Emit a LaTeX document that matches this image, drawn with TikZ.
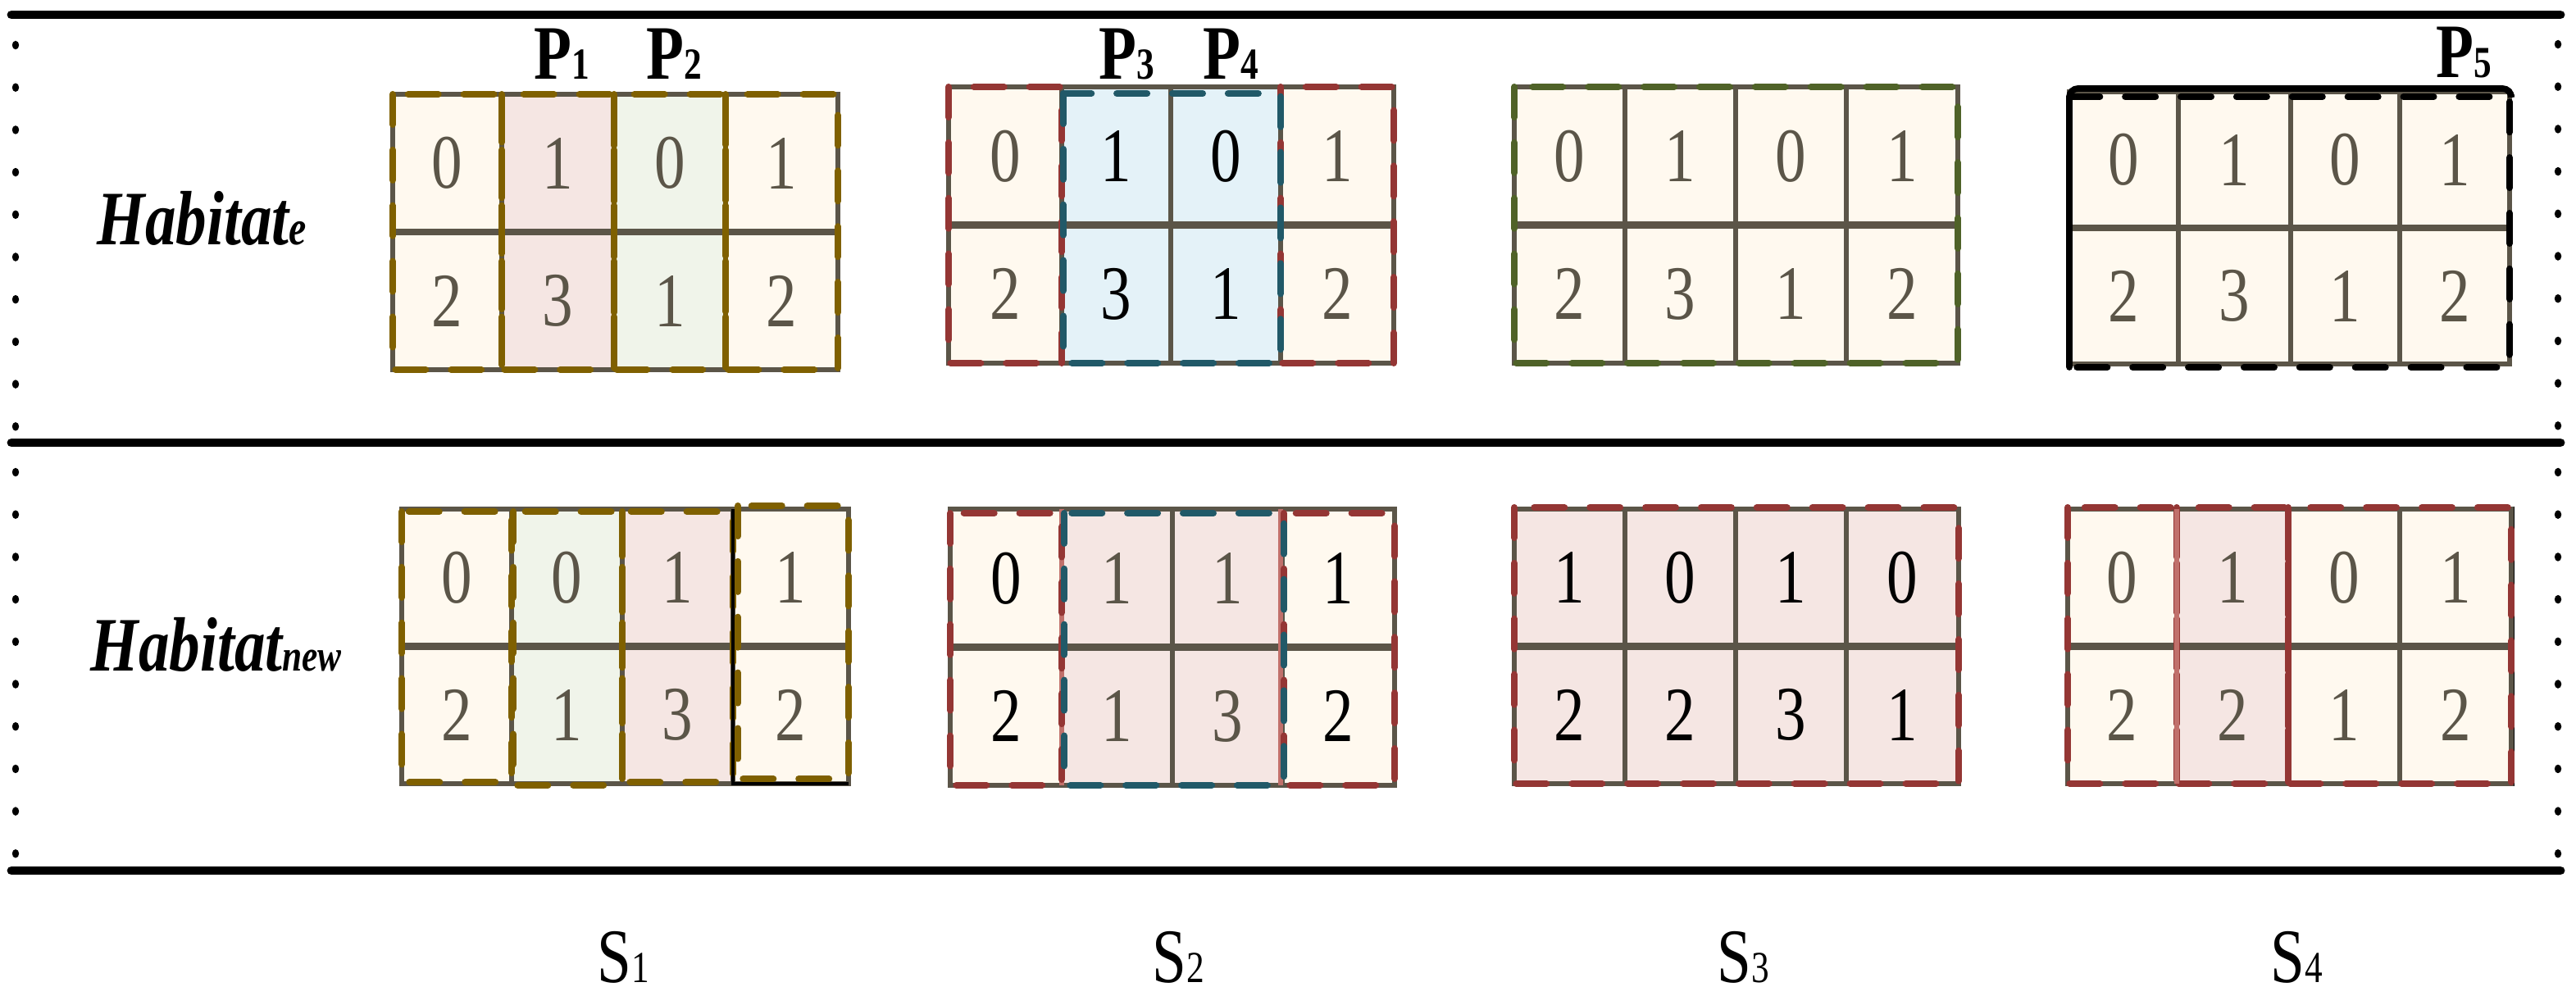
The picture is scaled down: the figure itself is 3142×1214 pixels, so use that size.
\documentclass[tikz,border=0pt]{standalone}
\usepackage{fontspec}
\setmainfont{Liberation Serif}
\definecolor{cream}{HTML}{FFF9EF}
\definecolor{pinkc}{HTML}{F5E6E3}
\definecolor{greenc}{HTML}{F0F4EA}
\definecolor{bluec}{HTML}{E4F2F8}
\definecolor{gridgray}{HTML}{5B5548}
\definecolor{dgray}{HTML}{5B5548}
\definecolor{goldd}{HTML}{7F6000}
\definecolor{redd}{HTML}{943634}
\definecolor{teald}{HTML}{215968}
\definecolor{olived}{HTML}{4F6228}
\definecolor{lightred}{HTML}{C0706B}
\tikzset{
  cellbox/.style={draw=gridgray, line width=1.7pt},
  rowline/.style={draw=gridgray, line width=2.5pt},
  digit/.style={inner sep=0pt, font=\fontsize{26.7pt}{30pt}\selectfont},
  lab/.style={inner sep=0pt, font=\fontsize{26.7pt}{30pt}\selectfont},
  dsh/.style={line width=2.3pt, dash pattern=on 10.5pt off 8.8pt, line cap=round},
  frameline/.style={draw=black, line width=1.4pt},
  sepline/.style={line width=3.1pt, line cap=round},
}
\newcommand{\subf}{\fontsize{15.4pt}{16pt}\selectfont}
\newcommand{\nar}[1]{\scalebox{0.8}[1]{#1}}
\newcommand{\mycol}[9]{%
  \filldraw[cellbox, fill=#6] (#2,#4) rectangle (#3,#5);
  \draw[rowline] (#2,{0.5*(#4+#5)}) -- (#3,{0.5*(#4+#5)});
  \node[digit, text=#9] (#1a) at ({0.5*(#2+#3)},{0.75*#4+0.25*#5}) {\nar{#7}};
  \node[digit, text=#9] (#1b) at ({0.5*(#2+#3)},{0.25*#4+0.75*#5}) {\nar{#8}};
}
\newcommand{\myframe}[4]{%
  \draw[frameline] ({#1-1},{#2-1}) rectangle ({#3+1},{#4+1});
}
\begin{document}
\begin{tikzpicture}[x=0.01cm, y=-0.01cm]
\useasboundingbox (0,0) rectangle (3142,1214);

% separator lines
\draw[sepline] (14,18) -- (3123,18);
\draw[sepline] (14,540) -- (3123,540);
\draw[sepline] (14,1062) -- (3123,1062);

% dotted side lines
\foreach \k in {0,...,9} {
  \fill (19,{55+51.7*\k}) ellipse [x radius=1.2pt, y radius=1.5pt];
  \fill (19,{576+51.7*\k}) ellipse [x radius=1.2pt, y radius=1.5pt];
  \fill (3120,{54+51.7*\k}) ellipse [x radius=1.2pt, y radius=1.5pt];
  \fill (3120,{576+51.7*\k}) ellipse [x radius=1.2pt, y radius=1.5pt];
}

% ---------- upper row ----------
% S1
\myframe{479}{115}{1022}{451}
\mycol{uAa}{479}{612}{115}{451}{cream}{0}{2}{dgray}
\mycol{uAb}{612}{749}{115}{451}{pinkc}{1}{3}{dgray}
\mycol{uAc}{749}{885}{115}{451}{greenc}{0}{1}{dgray}
\mycol{uAd}{885}{1022}{115}{451}{cream}{1}{2}{dgray}
\draw[dsh, goldd] (479,115) rectangle (612,451);
\draw[dsh, goldd] (612,115) rectangle (749,451);
\draw[dsh, goldd] (749,115) rectangle (885,451);
\draw[dsh, goldd] (885,115) rectangle (1022,451);

% S2
\myframe{1157}{106}{1700}{443}
\mycol{uBa}{1157}{1295}{106}{443}{cream}{0}{2}{dgray}
\mycol{uBb}{1295}{1428}{106}{443}{bluec}{1}{3}{black}
\mycol{uBc}{1428}{1562}{106}{443}{bluec}{0}{1}{black}
\mycol{uBd}{1562}{1700}{106}{443}{cream}{1}{2}{dgray}
\draw[dsh, redd] (1157,106) rectangle (1295,443);
\draw[dsh, redd] (1562,106) rectangle (1700,443);
\draw[dsh, teald] (1297,114) rectangle (1562,443);

% S3
\myframe{1847}{106}{2388}{443}
\mycol{uCa}{1847}{1982}{106}{443}{cream}{0}{2}{dgray}
\mycol{uCb}{1982}{2117}{106}{443}{cream}{1}{3}{dgray}
\mycol{uCc}{2117}{2252}{106}{443}{cream}{0}{1}{dgray}
\mycol{uCd}{2252}{2388}{106}{443}{cream}{1}{2}{dgray}
\draw[dsh, olived] (1847,106) rectangle (2388,443);

% S4
\mycol{uDa}{2524}{2657}{112}{444}{cream}{0}{2}{dgray}
\mycol{uDb}{2657}{2794}{112}{444}{cream}{1}{3}{dgray}
\mycol{uDc}{2794}{2927}{112}{444}{cream}{0}{1}{dgray}
\mycol{uDd}{2927}{3061}{112}{444}{cream}{1}{2}{dgray}
\draw[black, line width=2.2pt, line cap=round, rounded corners=3pt] (2524,448) -- (2524,108) -- (3063,108) -- (3063,116);
\draw[dsh, black] (2524,118) rectangle (3061,448);

% P labels
\node[lab, font=\fontsize{26.7pt}{30pt}\selectfont\bfseries, anchor=base] (p1) at (685,96) {\nar{P{\subf 1}}};
\node[lab, font=\fontsize{26.7pt}{30pt}\selectfont\bfseries, anchor=base] (p2) at (822,96) {\nar{P{\subf 2}}};
\node[lab, font=\fontsize{26.7pt}{30pt}\selectfont\bfseries, anchor=base] (p3) at (1374,96) {\nar{P{\subf 3}}};
\node[lab, font=\fontsize{26.7pt}{30pt}\selectfont\bfseries, anchor=base] (p4) at (1501,96) {\nar{P{\subf 4}}};
\node[lab, font=\fontsize{26.7pt}{30pt}\selectfont\bfseries, anchor=base] (p5) at (3005,94) {\nar{P{\subf 5}}};

% ---------- lower row ----------
% S1
\myframe{490}{621}{1035}{956}
\mycol{lAa}{490}{624}{621}{956}{cream}{0}{2}{dgray}
\mycol{lAb}{624}{759}{621}{956}{greenc}{0}{1}{dgray}
\mycol{lAc}{759}{894}{621}{956}{pinkc}{1}{3}{dgray}
\mycol{lAd}{894}{1035}{621}{956}{cream}{1}{2}{dgray}
\draw[dsh, goldd] (490,624) rectangle (624,954);
\draw[dsh, goldd] (626,624) rectangle (759,958);
\draw[dsh, goldd] (759,624) rectangle (894,954);
\draw[black, line width=1.4pt] (894,621) -- (894,956) -- (1035,956);
\draw[dsh, goldd] (900,617) rectangle (1035,950);

% S2
\myframe{1159}{621}{1701}{958}
\mycol{lBa}{1159}{1295}{621}{958}{cream}{0}{2}{black}
\mycol{lBb}{1295}{1430}{621}{958}{pinkc}{1}{1}{dgray}
\mycol{lBc}{1430}{1564}{621}{958}{pinkc}{1}{3}{dgray}
\mycol{lBd}{1564}{1701}{621}{958}{cream}{1}{2}{black}
\draw[lightred, line width=1.6pt] (1295,621) -- (1295,958);
\draw[lightred, line width=1.6pt] (1562,621) -- (1562,958);
\draw[dsh, redd] (1159,626) rectangle (1295,958);
\draw[dsh, redd] (1566,626) rectangle (1701,958);
\draw[dsh, teald] (1298,626) rectangle (1566,958);

% S3
\myframe{1847}{621}{2389}{956}
\mycol{lCa}{1847}{1982}{621}{956}{pinkc}{1}{2}{black}
\mycol{lCb}{1982}{2117}{621}{956}{pinkc}{0}{2}{black}
\mycol{lCc}{2117}{2252}{621}{956}{pinkc}{1}{3}{black}
\mycol{lCd}{2252}{2389}{621}{956}{pinkc}{0}{1}{black}
\draw[dsh, redd] (1847,619) rectangle (2389,956);

% S4
\myframe{2522}{621}{3063}{956}
\mycol{lDa}{2522}{2655}{621}{956}{cream}{0}{2}{dgray}
\mycol{lDb}{2655}{2791}{621}{956}{pinkc}{1}{2}{dgray}
\mycol{lDc}{2791}{2927}{621}{956}{cream}{0}{1}{dgray}
\mycol{lDd}{2927}{3063}{621}{956}{cream}{1}{2}{dgray}
\draw[dsh, redd] (2522,619) rectangle (2655,956);
\draw[dsh, redd] (2655,619) rectangle (2791,956);
\draw[lightred, line width=1.8pt] (2655,621) -- (2655,956);
\draw[redd, line width=1.4pt] (2793,621) -- (2793,956);
\draw[dsh, redd] (2791,619) rectangle (3063,956);

% row labels
\node[lab, font=\fontsize{26.7pt}{30pt}\selectfont\bfseries\itshape, anchor=base west] (he) at (118,298) {\nar{Habitat{\fontsize{17pt}{18pt}\selectfont e}}};
\node[lab, font=\fontsize{26.7pt}{30pt}\selectfont\bfseries\itshape, anchor=base west] (hn) at (110,818) {\nar{Habitat{\subf new}}};

% column labels
\node[lab, anchor=base] (s1) at (760,1198) {\nar{S{\subf 1}}};
\node[lab, anchor=base] (s2) at (1437,1198) {\nar{S{\subf 2}}};
\node[lab, anchor=base] (s3) at (2126,1198) {\nar{S{\subf 3}}};
\node[lab, anchor=base] (s4) at (2801,1198) {\nar{S{\subf 4}}};
\end{tikzpicture}
\end{document}
